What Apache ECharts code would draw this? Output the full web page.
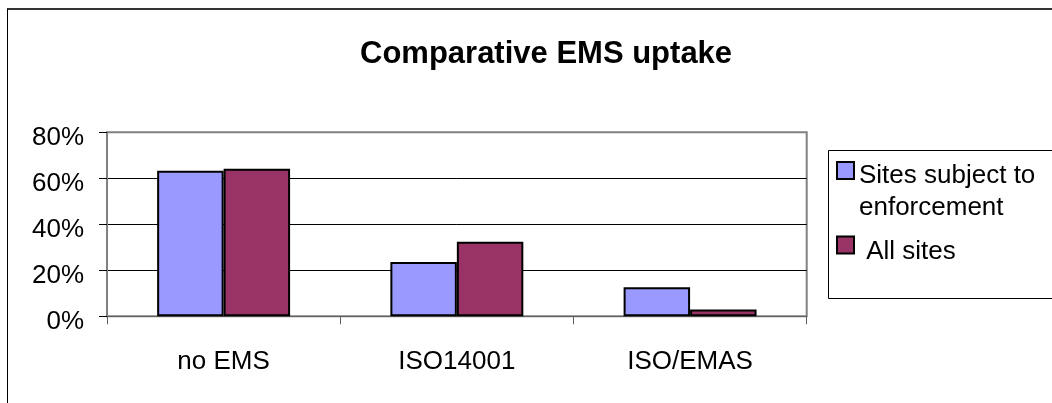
<!DOCTYPE html>
<html>
<head>
<meta charset="utf-8">
<script src="https://cdn.jsdelivr.net/npm/echarts@6/dist/echarts.min.js"></script>
<style>
    html, body { margin: 0; padding: 0; background: #fff; }
    #chart { width: 1052px; height: 403px; }
</style>
</head>
<body>
<div id="chart"></div>
<script>
// data
var categories = ['no EMS', 'ISO14001', 'ISO/EMAS'];
var seriesNames = ['Sites subject to\nenforcement', 'All sites'];
var enforcedSites = [0.633, 0.236, 0.126];
var allSites = [0.642, 0.324, 0.03];
var yTicks = [0, 0.2, 0.4, 0.6, 0.8];

var font = '"Liberation Sans", Arial, sans-serif';

// legend text: an empty first line pushes the label down so the icon sits by the first line
function legendText(prefix) {
    return function (name) {
        return '{gap| }\n{t|' + prefix + name.split('\n').join('}\n{t|') + '}';
    };
}

var chart = echarts.init(document.getElementById('chart'));

chart.setOption({
    animation: false,
    backgroundColor: '#fff',
    title: {
        text: 'Comparative EMS uptake',
        left: 360,
        top: 39,
        padding: 0,
        textStyle: { fontFamily: font, fontSize: 31, fontWeight: 'bold', color: '#000' }
    },
    legend: [
        {
            data: [seriesNames[0]],
            formatter: legendText(''),
            icon: 'rect',
            left: 836,
            top: 117.5,
            padding: 0,
            itemWidth: 17,
            itemHeight: 17,
            textStyle: {
                fontFamily: font, fontSize: 26, color: '#000',
                rich: {
                    gap: { fontSize: 10, lineHeight: 42, height: 42 },
                    t: { fontFamily: font, fontSize: 26, color: '#000', lineHeight: 32 }
                }
            }
        },
        {
            data: [seriesNames[1]],
            formatter: legendText(' '),
            icon: 'rect',
            left: 836,
            top: 222,
            padding: 0,
            itemWidth: 17,
            itemHeight: 17,
            textStyle: {
                fontFamily: font, fontSize: 26, color: '#000',
                rich: {
                    gap: { fontSize: 10, lineHeight: 14, height: 14 },
                    t: { fontFamily: font, fontSize: 26, color: '#000', lineHeight: 32 }
                }
            }
        }
    ],
    grid: {
        left: 107,
        right: 245.3,
        top: 132.3,
        bottom: 86.7,
        show: true,
        borderColor: '#808080',
        borderWidth: 2,
        containLabel: false,
        outerBoundsMode: 'none'
    },
    xAxis: {
        type: 'category',
        data: categories,
        axisLine: { lineStyle: { color: '#606060', width: 1 } },
        axisTick: { show: true, length: 8, lineStyle: { color: '#606060' } },
        axisLabel: { fontFamily: font, fontSize: 26, color: '#000', margin: 33 }
    },
    yAxis: {
        type: 'value',
        min: yTicks[0],
        max: yTicks[yTicks.length - 1],
        interval: yTicks[1] - yTicks[0],
        axisLine: { show: true, lineStyle: { color: '#808080', width: 1 } },
        axisTick: { show: true, length: 8, lineStyle: { color: '#000' } },
        splitLine: { show: true, showMinLine: false, showMaxLine: false, lineStyle: { color: '#000', width: 1 } },
        axisLabel: {
            fontFamily: font, fontSize: 26, color: '#000', margin: 23,
            verticalAlign: 'top', lineHeight: 12,
            formatter: function (v) { return Math.round(v * 100) + '%'; }
        }
    },
    series: [
        {
            name: seriesNames[0],
            type: 'bar',
            data: enforcedSites,
            barGap: '0%',
            barCategoryGap: '43%',
            itemStyle: { color: '#9999FF', borderColor: '#000', borderWidth: 2 }
        },
        {
            name: seriesNames[1],
            type: 'bar',
            data: allSites,
            barGap: '0%',
            barCategoryGap: '43%',
            itemStyle: { color: '#993366', borderColor: '#000', borderWidth: 2 }
        }
    ],
    graphic: [
        // outer chart frame (only top and left edges are visible)
        { type: 'line', shape: { x1: 7, y1: 9, x2: 1052, y2: 9 }, style: { stroke: '#333', lineWidth: 2 }, silent: true },
        { type: 'line', shape: { x1: 7.5, y1: 9, x2: 7.5, y2: 403 }, style: { stroke: '#000', lineWidth: 1 }, silent: true },
        // legend frame
        { type: 'rect', shape: { x: 828.5, y: 150.5, width: 240, height: 148 }, style: { fill: 'none', stroke: '#000', lineWidth: 1 }, silent: true }
    ]
});
</script>
</body>
</html>
